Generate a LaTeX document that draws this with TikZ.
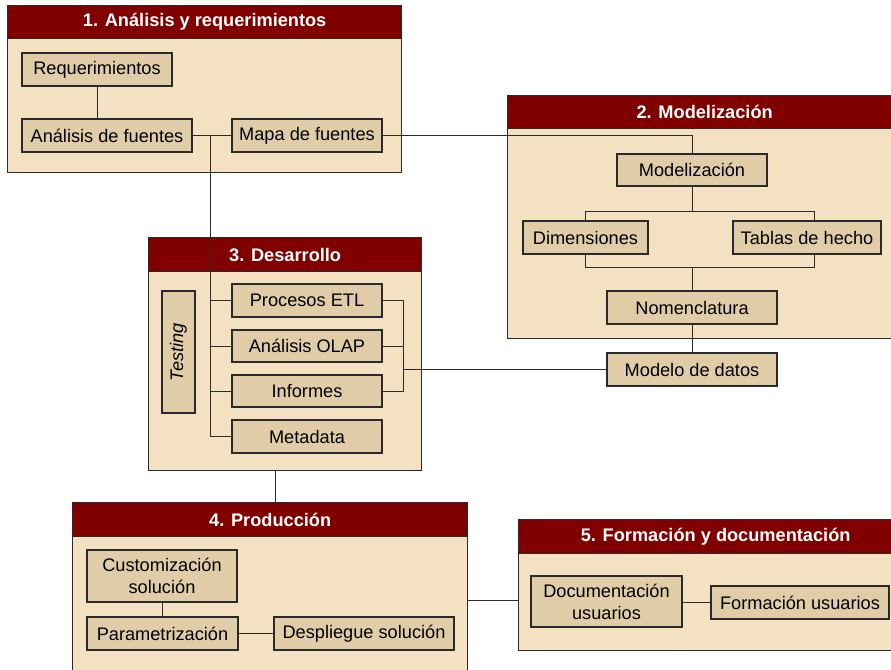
\documentclass[tikz,border=0pt]{standalone}
\usepackage{fontspec}
\setmainfont{Liberation Sans}
\definecolor{linec}{HTML}{2A2A2A}
\definecolor{panelfill}{HTML}{F3E1C1}
\definecolor{boxfill}{HTML}{E0CDA8}
\definecolor{headred}{HTML}{800000}
\begin{document}
\begin{tikzpicture}[x=1pt,y=-1pt,
  panel/.style={draw=linec, line width=1.3pt, fill=panelfill, anchor=north west, inner sep=0pt},
  header/.style={draw=linec, line width=1.3pt, fill=headred, text=white,
    font=\bfseries\fontsize{18.2}{21}\selectfont, anchor=north west, inner sep=0pt},
  item/.style={draw=linec, line width=1.2pt, fill=boxfill,
    font=\fontsize{18.2}{22}\selectfont, inner sep=0pt, align=center},
  wire/.style={draw=linec, line width=1pt}
]
\path[use as bounding box, clip] (0,0) rectangle (891,669);

% ---------- phase panels ----------
\node[panel, minimum width=394pt, minimum height=167pt] (p1) at (7,5) {};
\node[header, minimum width=394pt, minimum height=33pt] (h1) at (7,5) {1. Análisis y requerimientos};

\node[panel, minimum width=394pt, minimum height=243pt] (p2) at (507,95) {};
\node[header, minimum width=394pt, minimum height=33pt] (h2) at (507,95) {2. Modelización};

\node[panel, minimum width=273pt, minimum height=233pt] (p3) at (148,237) {};
\node[header, minimum width=273pt, minimum height=34pt] (h3) at (148,237) {3. Desarrollo};

\node[panel, minimum width=395pt, minimum height=200pt] (p4) at (72,502) {};
\node[header, minimum width=395pt, minimum height=34pt] (h4) at (72,502) {4. Producción};

\node[panel, minimum width=394pt, minimum height=131pt] (p5) at (518,519) {};
\node[header, minimum width=394pt, minimum height=34pt] (h5) at (518,519) {5. Formación y documentación};

% ---------- phase 1 ----------
\node[item, minimum width=150pt, minimum height=33pt] (req) at (97,69.5) {Requerimientos};
\node[item, minimum width=170pt, minimum height=33pt] (ana) at (107,135.5) {Análisis de fuentes};
\node[item, minimum width=150pt, minimum height=33pt] (map) at (307,135.5) {Mapa de fuentes};

% ---------- phase 2 ----------
\node[item, minimum width=150pt, minimum height=32pt] (modz) at (692,170) {Modelización};
\node[item, minimum width=125pt, minimum height=33pt] (dim) at (585.5,237.5) {Dimensiones};
\node[item, minimum width=148pt, minimum height=33pt] (tab) at (807,237.5) {Tablas de hecho};
\node[item, minimum width=170pt, minimum height=33pt] (nom) at (692,307.5) {Nomenclatura};
\node[item, minimum width=170pt, minimum height=33pt] (mod) at (692,369.5) {Modelo de datos};

% ---------- phase 3 ----------
\node[item, rotate=90, minimum width=122pt, minimum height=33pt, font=\itshape\fontsize{18.2}{21.5}\selectfont] (test) at (178.5,352) {Testing};
\node[item, minimum width=150pt, minimum height=33pt] (etl) at (307,300.5) {Procesos ETL};
\node[item, minimum width=150pt, minimum height=32pt] (olap) at (307,346) {Análisis OLAP};
\node[item, minimum width=150pt, minimum height=32pt] (inf) at (307,391) {Informes};
\node[item, minimum width=150pt, minimum height=33pt] (meta) at (307,436.5) {Metadata};

% ---------- phase 4 ----------
\node[item, minimum width=150pt, minimum height=52pt] (cust) at (162,576) {Customización\\solución};
\node[item, minimum width=151pt, minimum height=33pt] (par) at (162.5,633.5) {Parametrización};
\node[item, minimum width=180pt, minimum height=33pt] (desp) at (364,633.5) {Despliegue solución};

% ---------- phase 5 ----------
\node[item, minimum width=151pt, minimum height=51pt] (doc) at (606.5,601.5) {Documentación\\usuarios};
\node[item, minimum width=178pt, minimum height=33pt] (form) at (800,602.5) {Formación usuarios};

% ---------- connectors ----------
\draw[wire] (req.south) -- (req.south |- ana.north);
\draw[wire] (ana.east) -- (map.west);
\draw[wire] (map.east) -| (modz.north);

% spine feeding the development tasks
\coordinate (spine) at (210,135.5);
\draw[wire] (spine) |- (meta.west);
\draw[wire] (spine |- etl.west) -- (etl.west);
\draw[wire] (spine |- olap.west) -- (olap.west);
\draw[wire] (spine |- inf.west) -- (inf.west);

% modelling fork and join
\coordinate (fl) at (585.5,211);
\coordinate (fr) at (814,211);
\coordinate (fm) at (692,211);
\draw[wire] (modz.south) -- (fm);
\draw[wire] (dim.north) -- (fl) -- (fr) -- (fr |- tab.north);
\coordinate (jl) at (585.5,267);
\coordinate (jr) at (814,267);
\coordinate (jm) at (692,267);
\draw[wire] (dim.south) -- (jl) -- (jr) -- (jr |- tab.south);
\draw[wire] (jm) -- (nom.north);
\draw[wire] (nom.south) -- (mod.north);

% bracket joining ETL, OLAP and reports to the data model
\coordinate (bk) at (403,369.5);
\draw[wire] (etl.east) -- (etl.east -| bk) -- (inf.east -| bk) -- (inf.east);
\draw[wire] (olap.east) -- (olap.east -| bk);
\draw[wire] (mod.west) -- (bk);

% phase links
\coordinate (drop) at (275,470);
\draw[wire] (drop) -- (drop |- p4.north);
\coordinate (link) at (467,600);
\draw[wire] (link) -- (link -| p5.west);

% phase 4 and 5 internals
\draw[wire] (cust.south) -- (cust.south |- par.north);
\draw[wire] (par.east) -- (desp.west);
\draw[wire] (doc.east |- form.west) -- (form.west);
\end{tikzpicture}
\end{document}
